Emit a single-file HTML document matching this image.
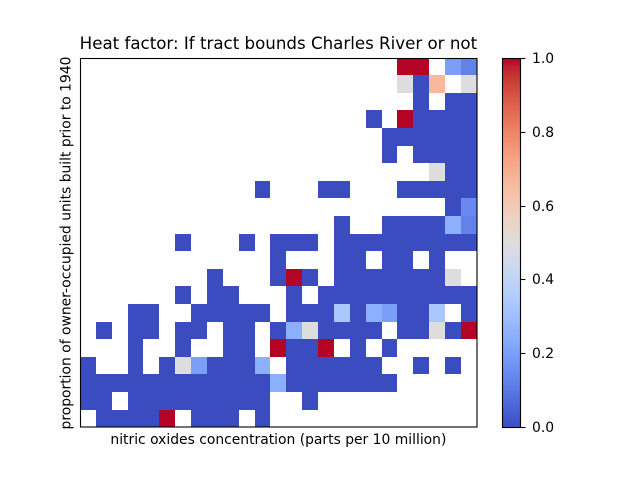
<!DOCTYPE html>
<html>
<head>
<meta charset="utf-8">
<title>Heat factor</title>
<style>
html,body{margin:0;padding:0;background:#fff;}
svg{display:block;}
text{font-family:"DejaVu Sans","Liberation Sans",sans-serif;fill:#000;}
</style>
</head>
<body>
<svg id="chart" width="640" height="480" viewBox="0 0 640 480" xmlns="http://www.w3.org/2000/svg">
  <rect x="0" y="0" width="640" height="480" fill="#ffffff"/>
  <g id="cells" shape-rendering="crispEdges"></g>
  <rect x="80.5" y="58.5" width="396.5" height="368.5" fill="none" stroke="#000" stroke-width="1.1"/>
  <text x="278.4" y="49" font-size="16.67" text-anchor="middle">Heat factor: If tract bounds Charles River or not</text>
  <text x="278.4" y="444" font-size="13.89" text-anchor="middle">nitric oxides concentration (parts per 10 million)</text>
  <text transform="translate(70.5,243) rotate(-90)" font-size="13.89" text-anchor="middle">proportion of owner-occupied units built prior to 1940</text>
  <g id="colorbar"></g>
</svg>
<script>
// null = empty bin
var heatValues = [
/* r0  */ [null,null,null,null,null,null,null,null,null,null,null,null,null,null,null,null,null,null,null,null,1,1,null,0.2,0.125],
/* r1  */ [null,null,null,null,null,null,null,null,null,null,null,null,null,null,null,null,null,null,null,null,0.5,0,0.667,null,0.5],
/* r2  */ [null,null,null,null,null,null,null,null,null,null,null,null,null,null,null,null,null,null,null,null,null,0,null,0,0],
/* r3  */ [null,null,null,null,null,null,null,null,null,null,null,null,null,null,null,null,null,null,0,null,1,0,0,0,0],
/* r4  */ [null,null,null,null,null,null,null,null,null,null,null,null,null,null,null,null,null,null,null,0,0,0,0,0,0],
/* r5  */ [null,null,null,null,null,null,null,null,null,null,null,null,null,null,null,null,null,null,null,0,null,0,0,0,0],
/* r6  */ [null,null,null,null,null,null,null,null,null,null,null,null,null,null,null,null,null,null,null,null,null,null,0.5,0,0],
/* r7  */ [null,null,null,null,null,null,null,null,null,null,null,0,null,null,null,0,0,null,null,null,0,0,0,0,0],
/* r8  */ [null,null,null,null,null,null,null,null,null,null,null,null,null,null,null,null,null,null,null,null,null,null,null,0,0.143],
/* r9  */ [null,null,null,null,null,null,null,null,null,null,null,null,null,null,null,null,0,null,null,0,0,0,0,0.25,0.125],
/* r10 */ [null,null,null,null,null,null,0,null,null,null,0,null,0,0,0,null,0,0,0,0,0,0,0,0,0],
/* r11 */ [null,null,null,null,null,null,null,null,null,null,null,null,0,null,null,null,0,0,null,0,0,null,0,null,null],
/* r12 */ [null,null,null,null,null,null,null,null,0,null,null,null,0,1,0,null,0,0,0,0,0,0,0,0.5,null],
/* r13 */ [null,null,null,null,null,null,0,null,0,0,null,null,null,0,null,0,0,0,0,0,0,0,0,0,0],
/* r14 */ [null,null,null,0,0,null,null,0,0,0,0,0,null,0,0,0,0.333,0,0.25,0.2,0,0,0.333,null,0],
/* r15 */ [null,0,null,0,0,null,0,0,null,0,0,null,0,0.25,0.5,0,0,0,0,null,0,0,0.5,0,1],
/* r16 */ [null,null,null,0,null,null,0,null,null,0,0,null,1,0,0,1,null,0,null,0,null,null,null,null,null],
/* r17 */ [0,null,null,0,null,0,0.5,0.2,0,0,0,0.25,null,0,0,0,0,0,0,null,null,0,null,0,null],
/* r18 */ [0,0,0,0,0,0,0,0,0,0,0,0,0.25,0,0,0,0,0,0,0,null,null,null,null,null],
/* r19 */ [0,0,null,0,0,0,0,0,0,0,0,0,null,null,0,null,null,null,null,null,null,null,null,null,null],
/* r20 */ [null,0,0,0,0,1,null,0,0,0,null,0,null,null,null,null,null,null,null,null,null,null,null,null,null]
];
var colorbarTicks = [0, 0.2, 0.4, 0.6, 0.8, 1.0];
var colorbarTickLabels = ["0.0", "0.2", "0.4", "0.6", "0.8", "1.0"];

var coolwarm = [[59,76,192],[68,90,204],[77,104,215],[87,117,225],[98,130,234],[108,142,241],[119,154,247],[130,165,251],[141,176,254],[152,185,255],[163,194,255],[174,201,253],[184,208,249],[194,213,244],[204,217,238],[213,219,230],[221,221,221],[229,216,209],[236,211,197],[241,204,185],[245,196,173],[247,187,160],[247,177,148],[247,166,135],[244,154,123],[241,141,111],[236,127,99],[229,112,88],[222,96,77],[213,80,66],[203,62,56],[192,40,47],[180,4,38]];

function colorOf(v) {
  var t = Math.max(0, Math.min(1, v)) * (coolwarm.length - 1);
  var i = Math.min(Math.floor(t), coolwarm.length - 2);
  var f = t - i;
  var c = [0, 1, 2].map(function (k) {
    return Math.round(coolwarm[i][k] + (coolwarm[i + 1][k] - coolwarm[i][k]) * f);
  });
  return 'rgb(' + c.join(',') + ')';
}

var NS = 'http://www.w3.org/2000/svg';
var plot = { left: 80, right: 476.8, top: 57.6, bottom: 427.2 };
var nRows = heatValues.length;
var nCols = heatValues[0].length;

function xCol(c) { return plot.left + (plot.right - plot.left) * c / nCols; }
function yRow(r) { return plot.top + (plot.bottom - plot.top) * r / nRows; }

var cellsG = document.getElementById('cells');
heatValues.forEach(function (row, r) {
  row.forEach(function (v, c) {
    if (v === null) return;
    var x0 = Math.round(xCol(c)), x1 = Math.round(xCol(c + 1));
    var y0 = Math.round(yRow(r)), y1 = Math.round(yRow(r + 1));
    var el = document.createElementNS(NS, 'rect');
    
    
    el.setAttribute('x', x0);
    el.setAttribute('y', y0);
    el.setAttribute('width', x1 - x0);
    el.setAttribute('height', y1 - y0);
    el.setAttribute('fill', colorOf(v));
    cellsG.appendChild(el);
  });
});

var cb = { left: 502.5, right: 520.5, top: 58, bottom: 427 };
function yBar(v) { return cb.bottom - (cb.bottom - cb.top) * v; }

var barG = document.getElementById('colorbar');
var steps = 256;
for (var s = 0; s < steps; s++) {
  var seg = document.createElementNS(NS, 'rect');
  
  
  seg.setAttribute('x', cb.left);
  seg.setAttribute('y', yBar((s + 1) / steps));
  seg.setAttribute('width', cb.right - cb.left);
  seg.setAttribute('height', (cb.bottom - cb.top) / steps + 0.6);
  seg.setAttribute('fill', colorOf((s + 0.5) / steps));
  barG.appendChild(seg);
}
var frame = document.createElementNS(NS, 'rect');


frame.setAttribute('x', cb.left);
frame.setAttribute('y', cb.top + 0.5);
frame.setAttribute('width', cb.right - cb.left);
frame.setAttribute('height', cb.bottom - cb.top);
frame.setAttribute('fill', 'none');
frame.setAttribute('stroke', '#000');
frame.setAttribute('stroke-width', '1.1');
barG.appendChild(frame);

colorbarTicks.forEach(function (v, i) {
  var y = Math.round(yBar(v)) + 0.5;
  var tick = document.createElementNS(NS, 'line');
  
  
  tick.setAttribute('x1', cb.right);
  tick.setAttribute('x2', cb.right + 4.9);
  tick.setAttribute('y1', y);
  tick.setAttribute('y2', y);
  tick.setAttribute('stroke', '#000');
  tick.setAttribute('stroke-width', '1.1');
  barG.appendChild(tick);
  var label = document.createElementNS(NS, 'text');
  
  
  label.setAttribute('x', cb.right + 11.5);
  label.setAttribute('y', y + 4.7);
  label.setAttribute('font-size', '13.89');
  label.textContent = colorbarTickLabels[i];
  barG.appendChild(label);
});
</script>
</body>
</html>
